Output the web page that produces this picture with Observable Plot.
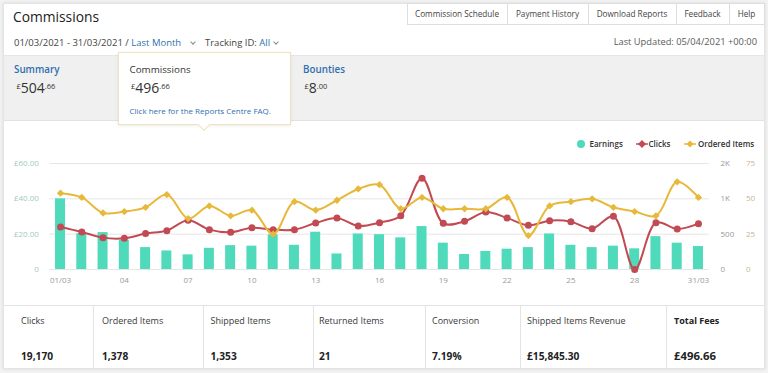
<!DOCTYPE html>
<html>
<head>
<meta charset="utf-8">
<script src="https://cdn.jsdelivr.net/npm/d3@7"></script>
<script src="https://cdn.jsdelivr.net/npm/@observablehq/plot@0.6"></script>
<style>
html,body{margin:0;padding:0;}
body{width:768px;height:373px;overflow:hidden;position:relative;background:#f2f2f2;font-family:"Open Sans",sans-serif;color:#333;}
.box{position:absolute;box-sizing:border-box;}
.t{position:absolute;white-space:nowrap;}
.blue{color:#2f6fae;}
.sup{font-size:7.5px;position:relative;top:-4.5px;}
.chev{position:absolute;width:3px;height:3px;border-right:1px solid #8a8a8a;border-bottom:1px solid #8a8a8a;transform:rotate(45deg);}
#chart{position:absolute;left:0;top:130px;}
</style>
</head>
<body>
<div class="box" style="left:3px;top:3px;width:762px;height:366px;background:#fff;border:1px solid #e4e4e4;box-shadow:0 0 3px rgba(0,0,0,0.10);"></div>
<!-- nav tabs -->
<div class="box" style="left:407px;top:3px;width:358px;height:22px;background:#fff;border:1px solid #dedede;"></div>
<div class="box" style="left:507px;top:3px;width:1px;height:22px;background:#dedede;"></div>
<div class="box" style="left:588px;top:3px;width:1px;height:22px;background:#dedede;"></div>
<div class="box" style="left:676px;top:3px;width:1px;height:22px;background:#dedede;"></div>
<div class="box" style="left:729px;top:3px;width:1px;height:22px;background:#dedede;"></div>
<!-- summary band -->
<div class="box" style="left:4px;top:55px;width:760px;height:66px;background:#f0f0f0;border-top:1px solid #e6e6e6;border-bottom:1px solid #e2e2e2;"></div>
<!-- popup -->
<div class="box" style="left:118px;top:52px;width:173px;height:73px;background:#fff;border:1px solid #efe3bf;box-shadow:0 1px 3px rgba(0,0,0,0.08);"></div>
<div class="box" style="left:199px;top:119px;width:10px;height:10px;background:#fff;border-right:1px solid #efe3bf;border-bottom:1px solid #efe3bf;transform:rotate(45deg);"></div>
<div class="box" style="left:119px;top:117px;width:171px;height:7px;background:#fff;"></div>
<!-- table -->
<div class="box" style="left:4px;top:305px;width:760px;height:1px;background:#e3e3e3;"></div>
<div id="chart"></div>
<script>
// ---------- data ----------
const days = [1,2,3,4,5,6,7,8,9,10,11,12,13,14,15,16,17,18,19,20,21,22,23,24,25,26,27,28,29,30,31];
const xTickDays = [1,4,7,10,13,16,19,22,25,28,31];
const xTickLabels = ["01/03","04","07","10","13","16","19","22","25","28","31/03"];
const earnings = [40.0,20.3,20.9,16.6,12.4,10.5,8.3,12.0,13.5,13.2,19.6,13.7,21.1,8.8,20.1,19.7,17.9,24.3,14.9,8.5,10.2,11.5,12.4,20.1,13.7,12.4,13.2,11.7,18.6,14.9,13.0];
const clicks = [602,531,451,442,508,550,696,564,527,592,564,564,658,729,616,663,762,1293,653,682,813,729,625,691,677,578,752,0,663,574,649];
const orderedItems = [54,51,40,41,44,53,36,45,38,42,25,48,42,49,57,60,43,51,43,43,43,51,24,45,48,50,44,41,38,62,51];
const earningsTicks = [0,20,40,60];
const earningsTickLabels = ["0","£20.00","£40.00","£60.00"];
const clicksTicks = [0,500,1000,1500];
const clicksTickLabels = ["0","500","1K","2K"];
const itemsTicks = [0,25,50,75];
const itemsTickLabels = ["0","25","50","75"];
const seriesNames = ["Earnings","Clicks","Ordered Items"];
const seriesColors = ["#4fdabb","#c24a53","#e7b93a"];
const metricLabels = ["Clicks","Ordered Items","Shipped Items","Returned Items","Conversion","Shipped Items Revenue","Total Fees"];
const metricValues = ["19,170","1,378","1,353","21","7.19%","£15,845.30","£496.66"];

// map secondary axes onto the earnings scale
const clicksToY = d3.scaleLinear().domain([0, 1500]).range([0, 60]);
const itemsToY = d3.scaleLinear().domain([0, 75]).range([0, 60]);
const rows = days.map((d, i) => ({day: d, earnings: earnings[i], clicksY: clicksToY(clicks[i]), itemsY: itemsToY(orderedItems[i])}));

const chart = Plot.plot({
  width: 768, height: 175,
  marginLeft: 49.4, marginRight: 59.4, marginTop: 33, marginBottom: 36,
  style: {background: "transparent", fontFamily: "Open Sans", fontSize: "8px", overflow: "visible"},
  x: {type: "band", domain: days, paddingInner: 0.53, paddingOuter: 0.265, round: false, axis: null, label: null},
  y: {domain: [0, 60], axis: null, label: null},
  marks: [
    Plot.gridY(earningsTicks, {stroke: "#e6e6e6", strokeOpacity: 1}),
    Plot.axisY(earningsTicks, {anchor: "left", tickSize: 0, tickPadding: 11, label: null, color: "#9fcac0",
      tickFormat: d => earningsTickLabels[earningsTicks.indexOf(d)]}),
    Plot.axisY(earningsTicks, {anchor: "right", tickSize: 0, tickPadding: 11.4, label: null, color: "#9a9a9a",
      tickFormat: d => clicksTickLabels[earningsTicks.indexOf(d)]}),
    Plot.axisY(earningsTicks, {anchor: "right", tickSize: 0, tickPadding: 36.8, label: null, color: "#c8b78e",
      tickFormat: d => itemsTickLabels[earningsTicks.indexOf(d)]}),
    Plot.axisX(xTickDays, {anchor: "bottom", tickSize: 0, tickPadding: 7.5, label: null, color: "#9a9a9a",
      tickFormat: d => xTickLabels[xTickDays.indexOf(d)]}),
    Plot.barY(rows, {x: "day", y: "earnings", fill: seriesColors[0]}),
    Plot.line(rows, {x: "day", y: "clicksY", stroke: seriesColors[1], strokeWidth: 2, curve: "catmull-rom"}),
    Plot.dot(rows, {x: "day", y: "clicksY", r: 3.5, fill: seriesColors[1]}),
    Plot.line(rows, {x: "day", y: "itemsY", stroke: seriesColors[2], strokeWidth: 2, curve: "catmull-rom"}),
    Plot.dot(rows, {x: "day", y: "itemsY", symbol: "diamond2", r: 3.3, fill: seriesColors[2]})
  ]
});
document.getElementById("chart").appendChild(chart);

// ---------- text helpers ----------
function T(x, cy, html, fs, css = {}, anchor = "start") {
  const el = document.createElement("div");
  el.className = "t";
  el.innerHTML = html;
  el.style.fontSize = fs + "px";
  el.style.lineHeight = fs + "px";
  el.style.top = (cy - 0.5 * fs) + "px";
  if (anchor === "start") el.style.left = x + "px";
  else if (anchor === "end") el.style.right = (768 - x) + "px";
  else { el.style.left = x + "px"; el.style.transform = "translateX(-50%)"; }
  Object.assign(el.style, css);
  document.body.appendChild(el);
  return el;
}
function chev(x, cy) {
  const c = document.createElement("div");
  c.className = "chev";
  c.style.left = (x - 2) + "px";
  c.style.top = (cy - 3) + "px";
  document.body.appendChild(c);
}

// header
T(13, 17.2, "Commissions", 13.8, {color: "#222"});
T(14, 42.5, '01/03/2021 - 31/03/2021 / <span class="blue">Last Month</span>', 9.5, {color: "#444"});
chev(193, 42.5);
T(205, 42.5, 'Tracking ID: <span class="blue">All</span>', 9.5, {color: "#444"});
chev(276, 42.5);
T(757, 42, "Last Updated: 05/04/2021 +00:00", 9.3, {color: "#5a5a5a"}, "end");

const navLabels = ["Commission Schedule","Payment History","Download Reports","Feedback","Help"];
const navCenters = [457, 547.5, 632, 702.5, 746.5];
navLabels.forEach((s, i) => T(navCenters[i], 14.3, s, 8.2, {color: "#444"}, "middle"));

// summary band
T(14, 70, "Summary", 9.8, {color: "#2f6fae", fontWeight: 600});
T(16.5, 88, '<span class="sup">£</span>504<span class="sup">.66</span>', 14, {color: "#333"});
T(129.5, 70, "Commissions", 9.8, {color: "#333"});
T(131, 88, '<span class="sup">£</span>496<span class="sup">.66</span>', 14, {color: "#333"});
T(129.5, 110.5, "Click here for the Reports Centre FAQ.", 8, {color: "#2f6fae"});
T(303, 70, "Bounties", 9.8, {color: "#2f6fae", fontWeight: 600});
T(304.5, 88, '<span class="sup">£</span>8<span class="sup">.00</span>', 14, {color: "#333"});

// legend
const leg = document.createElementNS("http://www.w3.org/2000/svg", "svg");
leg.setAttribute("width", 768); leg.setAttribute("height", 20);
leg.style.position = "absolute"; leg.style.left = "0px"; leg.style.top = "134px";
leg.innerHTML =
  `<circle cx="581" cy="10" r="4" fill="${seriesColors[0]}"/>` +
  `<line x1="636" x2="648" y1="10" y2="10" stroke="${seriesColors[1]}" stroke-width="1.5"/>` +
  `<path d="M642,6 L646,10 L642,14 L638,10Z" fill="${seriesColors[1]}"/>` +
  `<line x1="684" x2="696" y1="10" y2="10" stroke="${seriesColors[2]}" stroke-width="1.5"/>` +
  `<path d="M690,6.5 L693.5,10 L690,13.5 L686.5,10Z" fill="${seriesColors[2]}"/>`;
document.body.appendChild(leg);
const legX = [589.5, 648.5, 698];
seriesNames.forEach((s, i) => T(legX[i], 144, s, 8, {color: "#333", fontWeight: 600}));

// metrics table
const dividers = [93, 203, 312.5, 425, 520, 666];
dividers.forEach(x => {
  const d = document.createElement("div");
  d.className = "box";
  Object.assign(d.style, {left: x + "px", top: "305px", width: "1px", height: "64px", background: "#e3e3e3"});
  document.body.appendChild(d);
});
const metricX = [21, 102, 210.5, 319, 432, 527, 674];
metricLabels.forEach((s, i) => T(metricX[i], 320, s, 9, {color: i === 6 ? "#222" : "#3a3a3a", fontWeight: i === 6 ? 700 : 400}));
metricValues.forEach((s, i) => T(metricX[i], 356, s, i === 6 ? 11.3 : 10.2, {color: "#222", fontWeight: 700}));
</script>
</body>
</html>
